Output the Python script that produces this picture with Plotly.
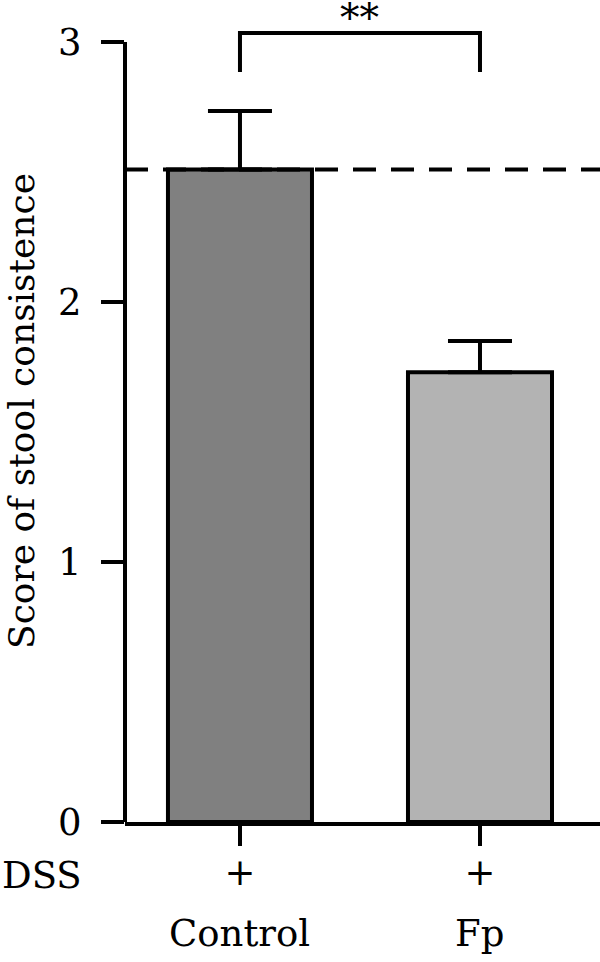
import plotly.graph_objects as go

groups = ["Control", "Fp"]
dss = ["+", "+"]
means = [2.51, 1.73]
sem = [0.225, 0.12]
colors = ["#808080", "#b3b3b3"]
yticks = [0, 1, 2, 3]
ref_level = 2.51
sig_label = "**"
sig_y = 3.035
sig_drop = 2.885

FONT = "DejaVu Serif"
FS = 37
YMAX = 3.1615
LW = 4

fig = go.Figure()
fig.add_trace(go.Bar(
    x=groups, y=means, width=0.6,
    marker=dict(color=colors, line=dict(color="black", width=LW)),
    error_y=dict(type="data", array=sem, arrayminus=[0, 0], symmetric=False,
                 color="black", thickness=LW, width=32),
    showlegend=False, hoverinfo="skip",
))

fig.add_shape(type="line", xref="paper", yref="y", x0=0, x1=0, y0=0, y1=max(yticks),
              line=dict(color="black", width=LW))
fig.add_shape(type="line", xref="paper", yref="y", x0=0, x1=1, y0=ref_level, y1=ref_level,
              line=dict(color="black", width=LW, dash="23px,15px"))
fig.add_shape(type="path", xref="x", yref="y",
              path=f"M 0,{sig_drop} L 0,{sig_y} L 1,{sig_y} L 1,{sig_drop}",
              line=dict(color="black", width=LW))
fig.add_annotation(x=0.5, y=1, xref="x", yref="paper", text=sig_label, showarrow=False,
                   yanchor="top", yshift=7, font=dict(family=FONT, size=39, color="black"))

for g in groups:
    fig.add_annotation(x=g, y=0, xref="x", yref="y", text=g, showarrow=False,
                       yanchor="middle", yshift=-111, font=dict(family=FONT, size=FS, color="black"))
fig.add_annotation(x=0, xref="paper", xshift=-83, y=0, yref="y", yshift=-53, text="DSS",
                   showarrow=False, xanchor="center", yanchor="middle",
                   font=dict(family=FONT, size=FS, color="black"))

fig.update_layout(
    width=600, height=962,
    margin=dict(l=125, r=0, t=0, b=140),
    paper_bgcolor="white", plot_bgcolor="white",
    font=dict(family=FONT, size=FS, color="black"),
    xaxis=dict(range=[-0.479, 1.5], showline=True, linecolor="black", linewidth=LW,
               ticks="outside", ticklen=20, tickwidth=LW, tickcolor="black",
               tickvals=groups, ticktext=dss, showgrid=False, zeroline=False,
               tickfont=dict(family=FONT, size=FS), ticklabelstandoff=-5),
    yaxis=dict(range=[0, YMAX], showline=False, ticks="outside", ticklen=23,
               tickwidth=LW, tickcolor="black", tickvals=yticks, showgrid=False,
               zeroline=False, tickfont=dict(family=FONT, size=FS), ticklabelstandoff=12,
               title=dict(text="Score of stool consistence",
                          font=dict(family=FONT, size=36),
                          standoff=12)),
)

fig.write_html("out.html", config={"displayModeBar": False},
               post_script="document.body.style.margin='0';")
